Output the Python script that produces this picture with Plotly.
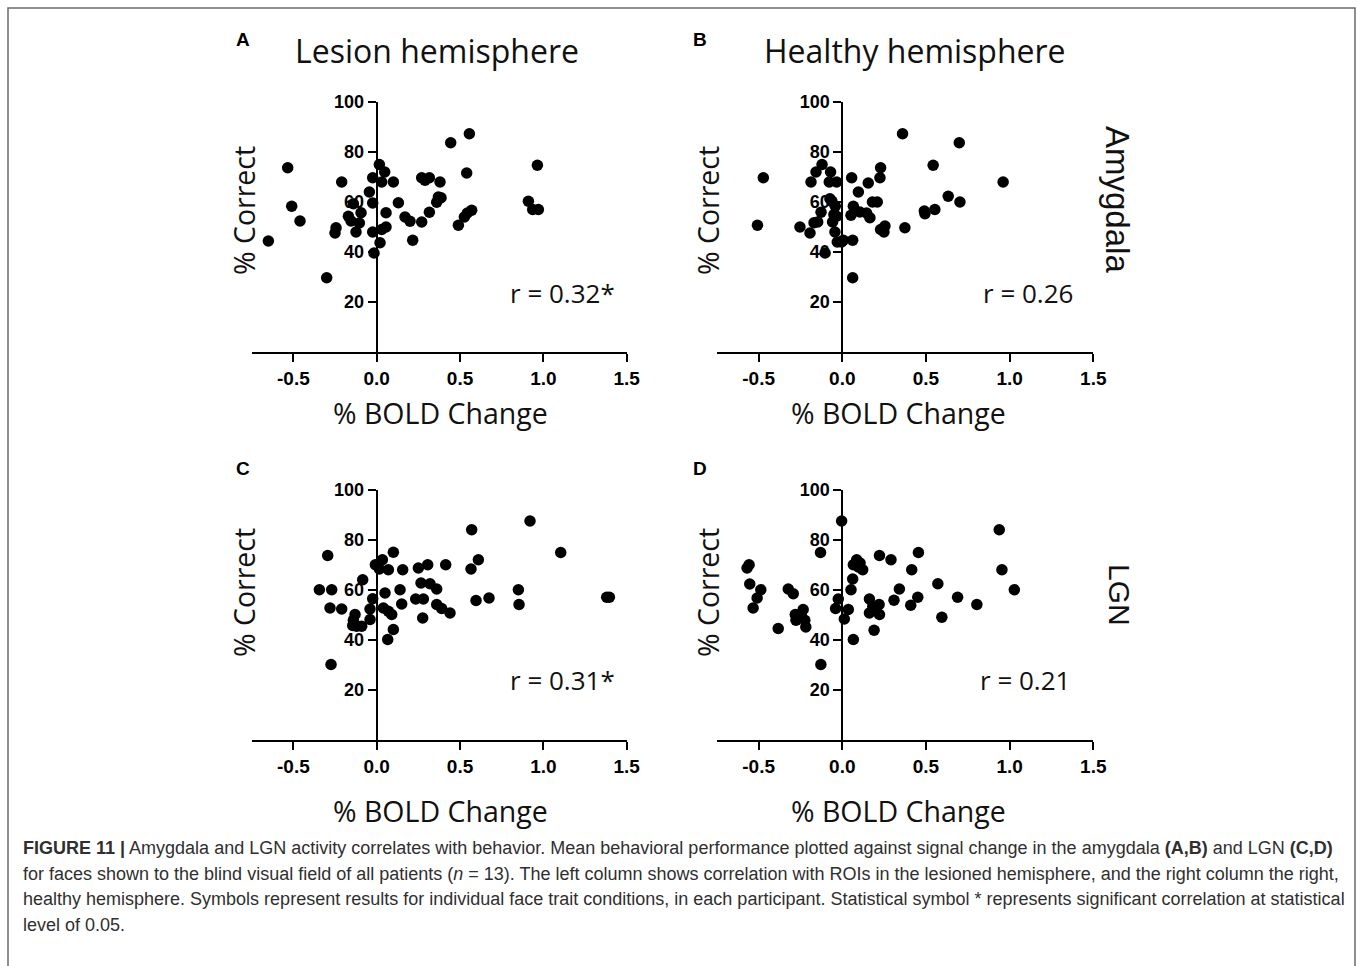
import plotly.graph_objects as go

W, H = 1358, 966

# ---------------- data ----------------
# Panel A: Amygdala, lesion hemisphere
a_x = [-0.65, -0.534, -0.51, -0.46, -0.30, -0.21, -0.244, -0.25, -0.17, -0.14, -0.154, -0.124, -0.104,
       -0.094, -0.044, -0.024, -0.024, -0.024, -0.016, 0.016, 0.048, 0.03, 0.056, 0.056, 0.02, 0.03,
       0.10, 0.13, 0.17, 0.20, 0.216, 0.27, 0.27, 0.29, 0.316, 0.316, 0.38, 0.36, 0.386, 0.37, 0.444,
       0.49, 0.54, 0.556, 0.526, 0.544, 0.57, 0.91, 0.936, 0.97, 0.964]
a_y = [44.4, 73.7, 58.3, 52.4, 29.7, 68.0, 49.7, 47.6, 54.3, 59.3, 52.4, 48.0, 51.6,
       55.7, 64.0, 69.7, 59.6, 48.0, 39.6, 75.0, 72.0, 68.0, 55.7, 50.0, 43.7, 49.0,
       68.0, 59.7, 54.0, 52.3, 44.7, 52.0, 69.7, 68.7, 69.7, 55.9, 68.0, 59.9, 61.7, 62.0, 83.7,
       50.7, 71.6, 87.3, 54.0, 55.6, 56.7, 60.3, 57.0, 57.0, 74.7]

# Panel B: Amygdala, healthy hemisphere
b_x = [-0.507, -0.472, -0.253, -0.193, -0.187, -0.169, -0.157, -0.147, -0.121, -0.127, -0.103,
       -0.070, -0.078, -0.074, -0.062, -0.058, -0.050, -0.042, -0.034, -0.044, -0.030, -0.004,
       -0.034, 0.006, 0.056, 0.066, 0.052, 0.062, 0.062, 0.096, 0.105, 0.145, 0.155, 0.165, 0.18,
       0.209, 0.225, 0.229, 0.229, 0.249, 0.255, 0.36, 0.374, 0.49, 0.494, 0.543, 0.553, 0.633,
       0.699, 0.703, 0.961]
b_y = [50.7, 69.7, 50.0, 47.6, 68.0, 51.7, 72.0, 52.0, 75.0, 55.9, 39.6,
       72.0, 68.0, 61.3, 60.3, 52.0, 55.0, 58.3, 68.0, 48.0, 44.0, 44.0,
       54.3, 44.7, 69.7, 58.3, 54.7, 44.7, 29.7, 64.0, 56.0, 55.6, 67.6, 53.7, 60.0,
       60.0, 69.7, 73.7, 49.0, 48.0, 50.4, 87.3, 49.7, 56.4, 55.3, 74.7, 57.0, 62.3,
       83.7, 60.0, 68.0]

# Panel C: LGN, lesion hemisphere
c_x = [-0.344, -0.294, -0.27, -0.28, -0.274, -0.21, -0.13, -0.14, -0.144, -0.12, -0.09, -0.084,
       -0.04, -0.04, -0.024, -0.008, 0.016, 0.034, 0.04, 0.05, 0.07, 0.066, 0.07, 0.09, 0.10, 0.10,
       0.14, 0.15, 0.156, 0.234, 0.25, 0.266, 0.276, 0.28, 0.306, 0.32, 0.36, 0.36, 0.39, 0.414,
       0.44, 0.566, 0.57, 0.61, 0.596, 0.674, 0.85, 0.854, 0.92, 1.104, 1.38, 1.396]
c_y = [60.1, 73.8, 60.1, 52.8, 30.2, 52.4, 50.2, 47.9, 45.8, 45.5, 45.5, 64.1,
       52.4, 48.2, 56.5, 70.1, 68.4, 72.1, 52.8, 58.8, 68.1, 40.2, 51.5, 50.2, 44.2, 75.1,
       60.1, 54.4, 68.1, 56.4, 68.8, 62.8, 48.8, 56.4, 70.1, 62.5, 60.4, 54.2, 52.6, 70.1,
       50.8, 68.4, 84.1, 72.1, 55.8, 56.8, 60.1, 54.2, 87.6, 75.0, 57.1, 57.1]

# Panel D: LGN, healthy hemisphere
d_x = [-0.569, -0.557, -0.553, -0.533, -0.509, -0.487, -0.383, -0.323, -0.293, -0.281, -0.277,
       -0.244, -0.234, -0.224, -0.218, -0.13, -0.128, -0.04, -0.024, -0.004, 0.012, 0.036, 0.052,
       0.062, 0.066, 0.066, 0.086, 0.096, 0.106, 0.122, 0.162, 0.162, 0.182, 0.19, 0.22, 0.222,
       0.222, 0.291, 0.309, 0.341, 0.409, 0.415, 0.451, 0.455, 0.571, 0.595, 0.689, 0.804, 0.938,
       0.954, 1.028]
d_y = [68.8, 70.1, 62.4, 52.8, 56.8, 60.1, 44.6, 60.4, 58.5, 50.2, 47.9,
       49.5, 52.2, 47.9, 45.2, 75.0, 30.2, 52.6, 56.4, 87.6, 48.4, 52.2, 60.1,
       64.4, 40.2, 70.1, 72.1, 69.2, 70.8, 68.1, 56.4, 50.8, 53.5, 43.9, 54.2, 50.2,
       73.8, 72.1, 55.9, 60.4, 53.9, 68.1, 57.1, 75.0, 62.5, 49.1, 57.1, 54.2, 84.1,
       68.1, 60.1]

x_tickvals = [-0.5, 0.0, 0.5, 1.0, 1.5]
x_ticktext = ["-0.5", "0.0", "0.5", "1.0", "1.5"]
y_tickvals = [20, 40, 60, 80, 100]
y_ticktext = ["20", "40", "60", "80", "100"]
col_titles = ["Lesion hemisphere", "Healthy hemisphere"]
row_labels = ["Amygdala", "LGN"]
panel_letters = ["A", "B", "C", "D"]
r_labels = ["r = 0.32*", "r = 0.26", "r = 0.31*", "r = 0.21"]
x_title = "% BOLD Change"
y_title = "% Correct"

caption_lines = [
    "<b>FIGURE 11 |</b> Amygdala and LGN activity correlates with behavior. Mean behavioral performance plotted against signal change in the amygdala <b>(A,B)</b> and LGN <b>(C,D)</b>",
    "for faces shown to the blind visual field of all patients (<i>n</i> = 13). The left column shows correlation with ROIs in the lesioned hemisphere, and the right column the right,",
    "healthy hemisphere. Symbols represent results for individual face trait conditions, in each participant. Statistical symbol * represents significant correlation at statistical",
    "level of 0.05.",
]

# ---------------- layout helpers ----------------
def px(p):
    return p / W

def py(p):
    return 1 - p / H

# pixel geometry of each panel: (x_left, x_right, y_top, y_bottom, x_of_zero)
geo = [
    (251.7, 626.7, 102, 352, 376.7),
    (716.8, 1093.3, 102, 352, 842.3),
    (251.7, 626.7, 490, 740, 376.7),
    (716.8, 1093.3, 490, 740, 842.3),
]
# annotation anchor points (pixels)
ytitle_pos = [(244, 211), (708, 211), (244, 593), (708, 593)]
xtitle_pos = [(440, 413), (898, 413), (440, 811), (898, 811)]
r_pos = [(617, 293), (1075, 293), (617, 680), (1072, 680)]
letter_pos = [(243, 39), (700, 39), (243, 468), (700, 468)]

FONT_MYRIAD = "Open Sans"
FONT_ARIAL = "Liberation Sans"


def ann(text, x, y, size, family=FONT_MYRIAD, xanchor="center", angle=0, color="#111"):
    return dict(text=text, x=px(x), y=py(y), xref="paper", yref="paper",
                showarrow=False, xanchor=xanchor, yanchor="middle", textangle=angle,
                font=dict(family=family, size=size, color=color))


fig = go.Figure()
datasets = [(a_x, a_y), (b_x, b_y), (c_x, c_y), (d_x, d_y)]
layout = {}
annotations = []
for i, ((xs, ys), g) in enumerate(zip(datasets, geo)):
    n = "" if i == 0 else str(i + 1)
    fig.add_trace(go.Scatter(
        x=xs, y=ys, mode="markers",
        marker=dict(color="black", size=11.5, line=dict(width=0)),
        xaxis="x" + n, yaxis="y" + n, showlegend=False, cliponaxis=False,
    ))
    xl, xr, yt, yb, x0 = g
    common = dict(
        showline=True, linecolor="black", linewidth=2,
        ticks="outside", ticklen=8, tickwidth=2, tickcolor="black",
        showgrid=False, zeroline=False, layer="below traces", fixedrange=True,
        automargin=False,
    )
    layout["xaxis" + n] = dict(
        domain=[px(xl), px(xr)], range=[-0.75, 1.5], anchor="y" + n,
        tickvals=x_tickvals, ticktext=x_ticktext,
        tickfont=dict(family=FONT_ARIAL, size=19, color="black", weight="bold"),
        **common,
    )
    layout["yaxis" + n] = dict(
        domain=[py(yb), py(yt)], range=[0, 100], anchor="free", position=px(x0),
        tickvals=y_tickvals, ticktext=y_ticktext,
        tickfont=dict(family=FONT_ARIAL, size=18, color="black", weight="bold"),
        **common,
    )
    annotations.append(ann(y_title, *ytitle_pos[i], 28.5, angle=-90))
    annotations.append(ann(x_title, *xtitle_pos[i], 28.5))
    annotations.append(ann(r_labels[i], *r_pos[i], 26, xanchor="right"))
    annotations.append(ann("<b>" + panel_letters[i] + "</b>", *letter_pos[i], 19,
                           family=FONT_ARIAL, color="black"))

# column titles
annotations.append(ann(col_titles[0], 437, 50, 32))
annotations.append(ann(col_titles[1], 915, 50, 32))
# row labels
annotations.append(ann(row_labels[0], 1117, 199, 33, family=FONT_ARIAL, angle=90))
annotations.append(ann(row_labels[1], 1120, 595, 30, family=FONT_ARIAL, angle=90))
# caption
for k, line in enumerate(caption_lines):
    annotations.append(dict(text=line, x=px(21), y=py(848 + k * 25.7), xref="paper", yref="paper",
                            showarrow=False, xanchor="left", yanchor="middle", align="left",
                            font=dict(family=FONT_ARIAL, size=18, color="#2f2f2f")))

fig.update_layout(
    width=W, height=H, autosize=False,
    margin=dict(l=0, r=0, t=0, b=0, pad=0, autoexpand=False),
    paper_bgcolor="white", plot_bgcolor="rgba(0,0,0,0)",
    annotations=annotations,
    shapes=[dict(type="rect", xref="paper", yref="paper",
                 x0=px(8), x1=px(1355), y0=-0.01, y1=py(8),
                 line=dict(color="#6a6a6a", width=1.5), fillcolor="rgba(0,0,0,0)")],
    **layout,
)

fig.write_html("out.html", config={"displayModeBar": False},
               post_script="document.body.style.margin='0';document.body.style.overflow='hidden';")
